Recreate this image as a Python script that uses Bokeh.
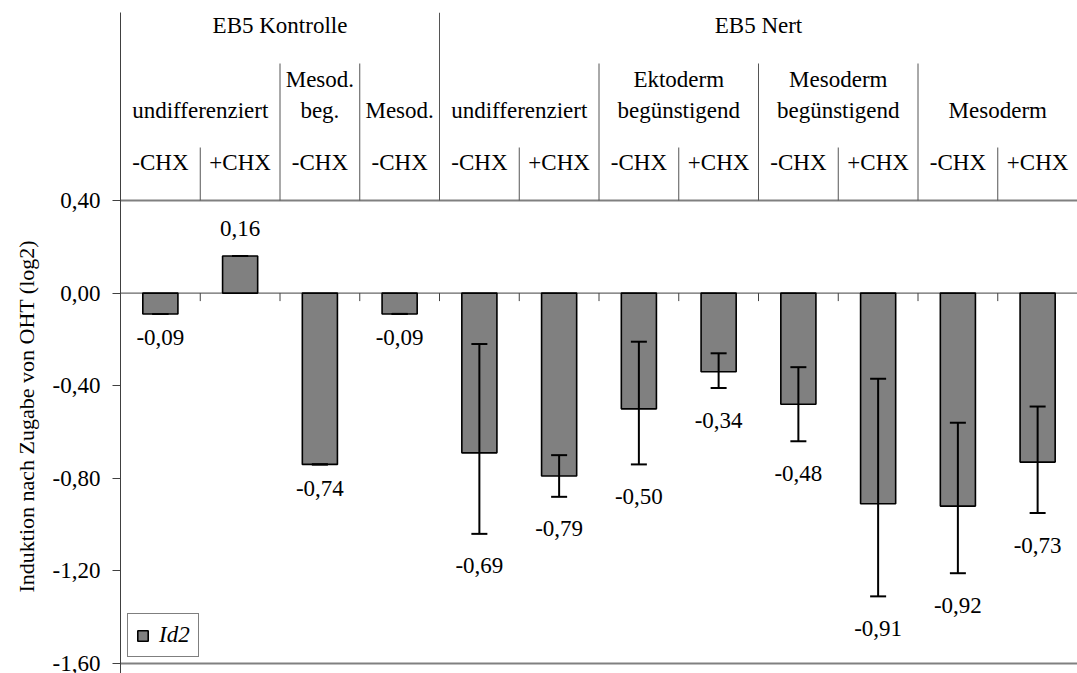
import math
from bokeh.plotting import figure
from bokeh.models import (Range1d, FixedTicker, CustomJSTickFormatter, ColumnDataSource,
                          Whisker, TeeHead, Title)
from bokeh.core.properties import value
from bokeh.embed import file_html
from bokeh.resources import INLINE

# ---------------- data ----------------
groups = ["EB5 Kontrolle", "EB5 Nert"]
group_spans = [4, 8]
subgroups = ["undifferenziert", "Mesod.\nbeg.", "Mesod.", "undifferenziert",
             "Ektoderm\nbegünstigend", "Mesoderm\nbegünstigend", "Mesoderm"]
subgroup_spans = [2, 1, 1, 2, 2, 2, 2]
treatments = ["-CHX", "+CHX", "-CHX", "-CHX", "-CHX", "+CHX",
              "-CHX", "+CHX", "-CHX", "+CHX", "-CHX", "+CHX"]
values = [-0.09, 0.16, -0.74, -0.09, -0.69, -0.79, -0.50, -0.34, -0.48, -0.91, -0.92, -0.73]
err_upper = [-0.09, 0.16, -0.74, -0.09, -0.22, -0.70, -0.21, -0.26, -0.32, -0.37, -0.56, -0.49]
err_lower = [-0.09, 0.16, -0.74, -0.09, -1.04, -0.88, -0.74, -0.41, -0.64, -1.31, -1.21, -0.95]
yticks = [-1.6, -1.2, -0.8, -0.4, 0.0, 0.4]
series_name = "Id2"
y_title = "Induktion nach Zugabe von OHT (log2)"

# ---------------- layout ----------------
FONT = "Times New Roman"
FS = "23px"
W, H = 1077, 673
LEFT, TOP = 120, 12
PPU = 231.5          # pixels per unit on y
CAT_PX = 79.75       # pixels per category
y_lo = min(yticks) - 10 / PPU
y_hi = max(yticks) + 188 / PPU
x_hi = (W - LEFT) / CAT_PX


def hy(page_y):
    return max(yticks) + (200 - page_y) / PPU


p = figure(width=W, height=H, output_backend="svg", toolbar_location=None,
           x_range=Range1d(0, x_hi), y_range=Range1d(y_lo, y_hi),
           x_axis_location=None, min_border_left=LEFT, min_border_top=TOP,
           min_border_bottom=0, min_border_right=0)
p.outline_line_color = None
p.xgrid.visible = False
p.ygrid.visible = False
p.background_fill_color = "white"
p.border_fill_color = "white"

yax = p.yaxis[0]
yax.ticker = FixedTicker(ticks=yticks)
yax.formatter = CustomJSTickFormatter(code="return tick.toFixed(2).replace('.', ',');")
yax.major_label_text_font = FONT
yax.major_label_text_font_size = FS
yax.major_label_text_color = "black"
yax.major_tick_out = 8
yax.major_tick_in = 0
yax.minor_tick_out = 0
yax.minor_tick_in = 0
yax.axis_line_color = "#404040"
yax.major_tick_line_color = "#404040"
yax.major_label_standoff = 12

n = len(values)
xs = [i + 0.5 for i in range(n)]

# plot-area border lines at 0.40 and -1.60
p.segment(x0=[0, 0], y0=[max(yticks), min(yticks)], x1=[x_hi, x_hi],
          y1=[max(yticks), min(yticks)], line_color="#808080", line_width=2)
# zero line (category axis) with ticks at category boundaries
p.segment(x0=[0], y0=[0], x1=[x_hi], y1=[0], line_color="#404040", line_width=1)
bounds = list(range(0, n + 1))
p.segment(x0=bounds, y0=[0] * len(bounds), x1=bounds, y1=[-8 / PPU] * len(bounds),
          line_color="#404040", line_width=1)

# bars
src = ColumnDataSource(dict(x=xs, val=values, up=err_upper, lo=err_lower))
p.vbar(x="x", top="val", bottom=0, width=0.44, source=src, fill_color="#808080",
       line_color="black", line_width=1.6, legend_label=series_name)

whisk = Whisker(base="x", upper="up", lower="lo", source=src, line_color="black",
                line_width=2, level="overlay",
                upper_head=TeeHead(size=16, line_color="black", line_width=2),
                lower_head=TeeHead(size=16, line_color="black", line_width=2))
p.add_layout(whisk)

# value labels
lab_x, lab_y, lab_off, lab_txt = [], [], [], []
for i, v in enumerate(values):
    lab_x.append(xs[i])
    if v >= 0:
        lab_y.append(max(v, err_upper[i]))
        lab_off.append(-28)
    else:
        lo = min(v, err_lower[i])
        lab_y.append(lo)
        lab_off.append(24 if lo == v else 32)
    lab_txt.append(f"{v:.2f}".replace(".", ","))
p.text(x="x", y="y", text="t", y_offset="o",
       source=ColumnDataSource(dict(x=lab_x, y=lab_y, o=lab_off, t=lab_txt)),
       text_font=value(FONT), text_font_size=FS, text_color="black",
       text_align="center", text_baseline="middle")

# ---------------- header table ----------------
line_col = "#555555"
top_y = y_hi
head_bottom = max(yticks)
gb, acc = [], 0
for s in group_spans:
    acc += s
    gb.append(acc)
sb, acc = [], 0
for s in subgroup_spans:
    acc += s
    sb.append(acc)
g_lines = [b for b in gb if b < n]
s_lines = [b for b in sb if b not in gb]
c_lines = [b for b in range(1, n) if b not in sb]
p.segment(x0=g_lines, y0=[top_y] * len(g_lines), x1=g_lines, y1=[head_bottom] * len(g_lines),
          line_color=line_col, line_width=1)
p.segment(x0=s_lines, y0=[hy(63)] * len(s_lines), x1=s_lines, y1=[head_bottom] * len(s_lines),
          line_color=line_col, line_width=1)
p.segment(x0=c_lines, y0=[hy(147)] * len(c_lines), x1=c_lines, y1=[head_bottom] * len(c_lines),
          line_color=line_col, line_width=1)

hx, hyy, ht = [], [], []
start = 0
for g, s in zip(groups, group_spans):
    hx.append(start + s / 2)
    hyy.append(hy(25))
    ht.append(g)
    start += s
start = 0
for g, s in zip(subgroups, subgroup_spans):
    parts = g.split("\n")
    if len(parts) == 1:
        hx.append(start + s / 2); hyy.append(hy(110)); ht.append(parts[0])
    else:
        hx.append(start + s / 2); hyy.append(hy(79)); ht.append(parts[0])
        hx.append(start + s / 2); hyy.append(hy(110)); ht.append(parts[1])
    start += s
for i, t in enumerate(treatments):
    hx.append(xs[i]); hyy.append(hy(162)); ht.append(t)
p.text(x="x", y="y", text="t", source=ColumnDataSource(dict(x=hx, y=hyy, t=ht)),
       text_font=value(FONT), text_font_size=FS, text_color="black",
       text_align="center", text_baseline="middle")

# y-axis title, centred on the value area (not on the header)
p.add_layout(Title(text=y_title, align="left", vertical_align="middle", offset=81, standoff=20,
                   text_font=FONT, text_font_size="22px", text_font_style="normal",
                   text_color="black"), "left")

# legend
lg = p.legend[0]
lg.location = (7, 16)
lg.margin = 0
lg.padding = 8
lg.spacing = 0
lg.glyph_width = 13
lg.glyph_height = 13
lg.label_height = 20
lg.label_standoff = 10
lg.label_text_font = FONT
lg.label_text_font_style = "italic"
lg.label_text_font_size = FS
lg.label_text_color = "black"
lg.border_line_color = "black"
lg.border_line_width = 1
lg.background_fill_alpha = 1

open("out.html", "w").write(file_html(p, INLINE))
